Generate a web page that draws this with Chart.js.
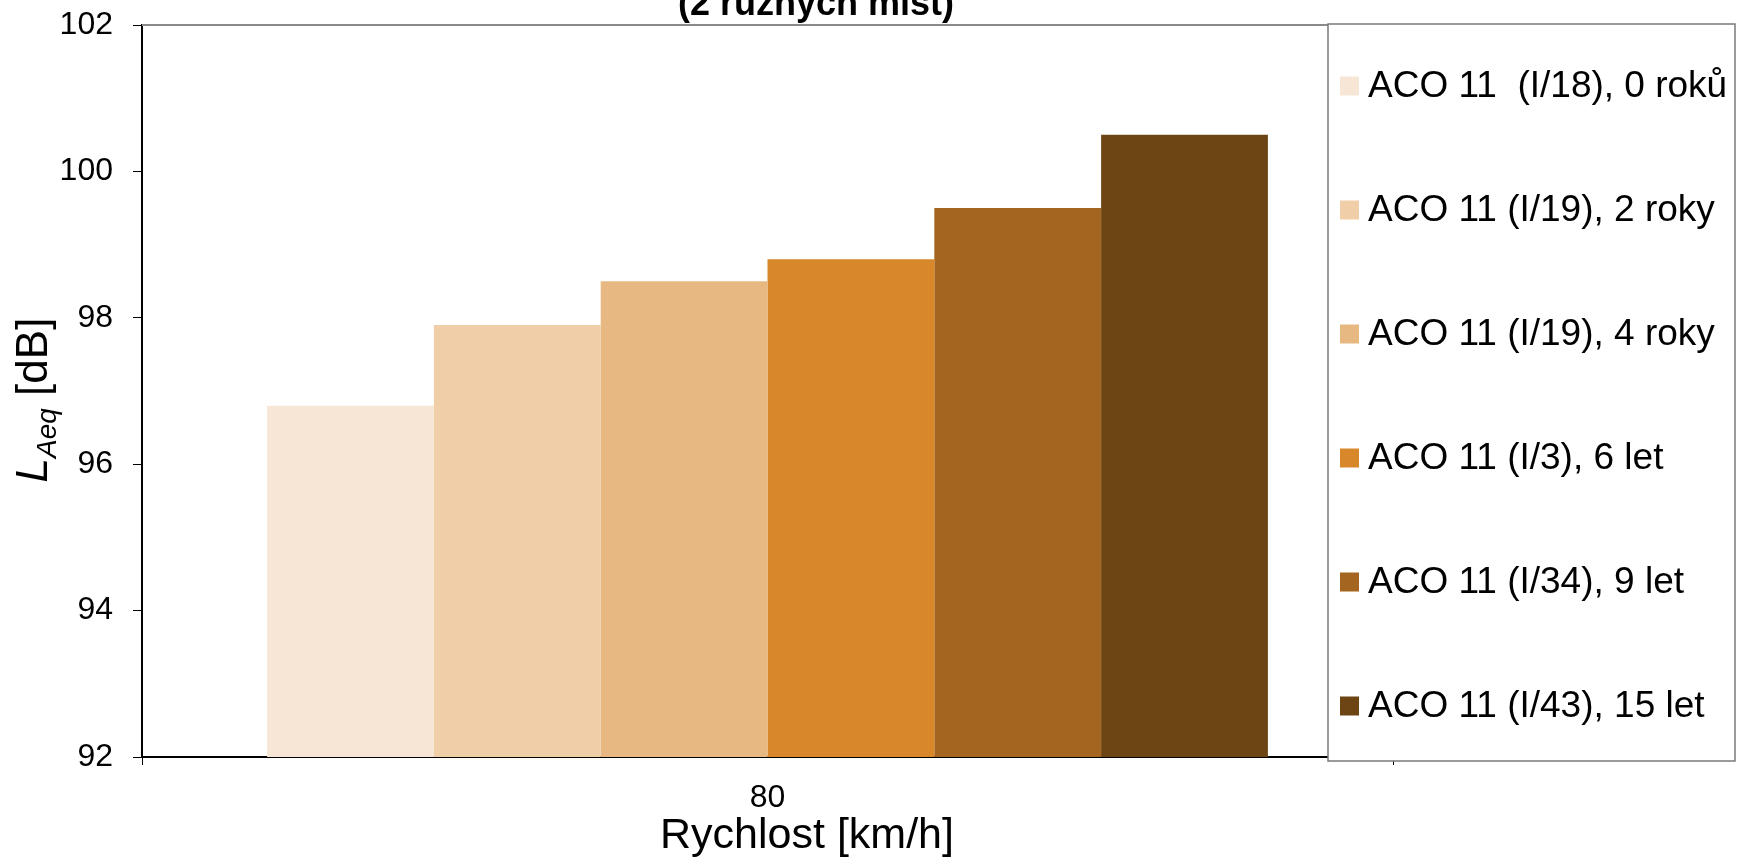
<!DOCTYPE html>
<html><head><meta charset="utf-8">
<script src="https://cdn.jsdelivr.net/npm/chart.js@4"></script>
<style>html,body{margin:0;padding:0;background:#fff}#wrap{width:1737px;height:857px;position:relative}</style>
</head><body><div id="wrap"><canvas id="c" width="1737" height="857"></canvas></div>
<script>
const categories = ['80'];
const seriesLabels = ['ACO 11  (I/18), 0 roků', 'ACO 11 (I/19), 2 roky', 'ACO 11 (I/19), 4 roky', 'ACO 11 (I/3), 6 let', 'ACO 11 (I/34), 9 let', 'ACO 11 (I/43), 15 let'];
const seriesValues = [[96.8], [97.9], [98.5], [98.8], [99.5], [100.5]];
const seriesColors = ['#F7E6D5', '#F0CFA8', '#E8B882', '#D8882A', '#A3651F', '#6D4515'];
const yTicks = [92, 94, 96, 98, 100, 102];
const titleText = '(2 různých míst)';
const xTitle = 'Rychlost [km/h]';
const yTitleMain = 'L', yTitleSub = 'Aeq', yTitleUnit = ' [dB]';

const FONT = '"Liberation Sans", Arial, Helvetica, sans-serif';

const decor = {
  id: 'decor',
  afterDraw(chart) {
    const ctx = chart.ctx, a = chart.chartArea;
    ctx.save();
    // top border of plot
    ctx.strokeStyle = '#8a8a8a'; ctx.lineWidth = 2;
    ctx.beginPath(); ctx.moveTo(a.left, a.top); ctx.lineTo(a.right, a.top); ctx.stroke();
    // title (partly clipped)
    ctx.fillStyle = '#000';
    ctx.font = 'bold 36px ' + FONT;
    ctx.textAlign = 'center'; ctx.textBaseline = 'alphabetic';
    ctx.fillText(titleText, 816, 15);
    // x title
    ctx.font = '43px ' + FONT;
    ctx.fillText(xTitle, 807, 848);
    // y title
    ctx.translate(47, 400);
    ctx.rotate(-Math.PI / 2);
    const fMain = 'italic 44px ' + FONT, fSub = 'italic 28px ' + FONT, fUnit = '44px ' + FONT;
    ctx.font = fMain; const w1 = ctx.measureText(yTitleMain).width;
    ctx.font = fSub; const w2 = ctx.measureText(yTitleSub).width;
    ctx.font = fUnit; const w3 = ctx.measureText(yTitleUnit).width;
    let x = -(w1 + w2 + w3) / 2;
    ctx.textAlign = 'left';
    ctx.font = fMain; ctx.fillText(yTitleMain, x, 0); x += w1;
    ctx.font = fSub; ctx.fillText(yTitleSub, x, 9); x += w2;
    ctx.font = fUnit; ctx.fillText(yTitleUnit, x, 0);
    ctx.restore();
    // legend
    ctx.save();
    const lx = 1328, ly = 24, lw = 407, lh = 737;
    ctx.fillStyle = '#fff'; ctx.fillRect(lx, ly, lw, lh);
    ctx.strokeStyle = '#7a7a7a'; ctx.lineWidth = 1.5;
    ctx.strokeRect(lx, ly, lw, lh);
    ctx.font = '37px ' + FONT; ctx.textBaseline = 'middle'; ctx.textAlign = 'left';
    chart.data.datasets.forEach((ds, i) => {
      const cy = 86 + i * 124;
      ctx.fillStyle = ds.backgroundColor;
      ctx.fillRect(1340, cy - 9.5, 19, 19);
      ctx.fillStyle = '#000';
      ctx.fillText(ds.label, 1368, cy + 1);
    });
    ctx.restore();
  }
};

new Chart(document.getElementById('c'), {
  type: 'bar',
  data: {
    labels: categories,
    datasets: seriesLabels.map((l, i) => ({
      label: l, data: seriesValues[i], backgroundColor: seriesColors[i], borderWidth: 0,
      barPercentage: 1.0, categoryPercentage: 0.8
    }))
  },
  options: {
    responsive: false, animation: false, devicePixelRatio: 1,
    layout: { padding: { top: 25, right: 344, left: 0, bottom: 0 } },
    plugins: { legend: { display: false }, title: { display: false }, tooltip: { enabled: false } },
    scales: {
      x: {
        offset: true,
        grid: { offset: true, drawOnChartArea: false, drawTicks: true, tickLength: 8, color: '#000', lineWidth: 1 },
        border: { color: '#000', width: 2 },
        ticks: { font: { size: 32, family: FONT }, color: '#000', padding: 14 },
        afterFit: s => { s.height = 100; s.paddingLeft = 0; s.paddingRight = 0; }
      },
      y: {
        min: 92, max: 102,
        grid: { drawOnChartArea: false, drawTicks: true, tickLength: 9, color: '#000', lineWidth: 1 },
        border: { color: '#000', width: 2 },
        ticks: { font: { size: 32, family: FONT }, color: '#000', padding: 20 },
        afterBuildTicks: s => { s.ticks = yTicks.map(v => ({ value: v })); },
        afterFit: s => { s.width = 142; s.paddingTop = 0; s.paddingBottom = 0; }
      }
    }
  },
  plugins: [decor]
});
</script></body></html>
